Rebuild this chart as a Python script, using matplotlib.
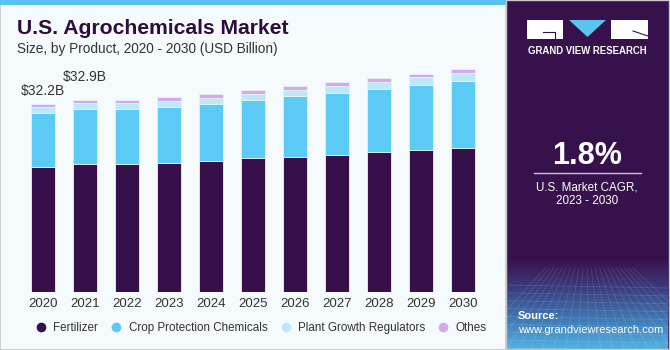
import numpy as np
import matplotlib.pyplot as plt
from matplotlib.patches import Rectangle, Polygon
from matplotlib.lines import Line2D
from matplotlib.colors import LinearSegmentedColormap

# 데이터 (USD Billion)
years = ['2020', '2021', '2022', '2023', '2024', '2025', '2026', '2027', '2028', '2029', '2030']
fertilizer = [21.3, 21.8, 21.8, 22.05, 22.45, 22.85, 23.1, 23.4, 23.9, 24.3, 24.6]
crop_protection = [9.3, 9.45, 9.45, 9.6, 9.75, 9.95, 10.4, 10.65, 10.8, 11.1, 11.45]
plant_growth = [0.95, 1.02, 1.02, 1.03, 0.97, 1.03, 1.03, 1.15, 1.2, 1.32, 1.37]
others = [0.65, 0.63, 0.63, 0.68, 0.74, 0.65, 0.68, 0.65, 0.63, 0.62, 0.63]
series_names = ['Fertilizer', 'Crop Protection Chemicals', 'Plant Growth Regulators', 'Othes']
series_colors = ['#370F4A', '#5BCAF5', '#BDE8F8', '#D4A8EC']
labels = {0: '$32.2B', 1: '$32.9B'}
label_offset = {0: 2.2, 1: 3.8}

W, H = 670, 350
plt.rcParams['font.family'] = ['Liberation Sans', 'DejaVu Sans']

fig = plt.figure(figsize=(W / 100, H / 100), dpi=100)

# 배경 (픽셀 좌표)
bg = fig.add_axes([0, 0, 1, 1])
bg.set_xlim(0, W)
bg.set_ylim(H, 0)
bg.axis('off')
bg.add_patch(Rectangle((0, 0), 506, H, facecolor='#F5FAFD', edgecolor='#C8C8C8', lw=1.2))
bg.add_patch(Rectangle((0, 0), 506, 5, facecolor='#5BC3EE', edgecolor='none'))
bg.add_patch(Rectangle((506, 0), W - 506, H, facecolor='#37114B', edgecolor='none'))

# 오른쪽 하단 그라데이션
grad = np.linspace(0, 1, 100).reshape(-1, 1)
cmap = LinearSegmentedColormap.from_list('g', ['#37114B', '#3B3E7E', '#3F79B4', '#52B3E3'])
bg.imshow(grad, cmap=cmap, extent=(506, W - 2, H, 258), aspect='auto', zorder=1)
for yy in np.linspace(285, 348, 9):
    bg.plot([506, W - 2], [yy, yy + 3], color='white', alpha=0.12, lw=0.6, zorder=2)
for xx in np.linspace(470, 720, 22):
    bg.plot([586 + (xx - 586) * 0.35, xx], [268, H], color='white', alpha=0.12, lw=0.6, zorder=2)
bg.add_patch(Rectangle((506, 0), W - 507, H - 1, facecolor='none', edgecolor='#C8C8C8', lw=1.0, zorder=3))

# 로고
bg.add_patch(Rectangle((527, 20), 36, 19, facecolor='white', edgecolor='none', zorder=3))
bg.plot([543, 555, 555], [32, 32, 38], color='#37114B', lw=0.8, zorder=4)
bg.add_patch(Polygon([(569, 20), (606, 20), (587.5, 37)], closed=True, facecolor='#5BC3EE', edgecolor='none', zorder=3))
bg.add_patch(Rectangle((611, 20), 37, 19, facecolor='white', edgecolor='none', zorder=3))
bg.plot([633, 648], [31, 36], color='#37114B', lw=0.8, zorder=4)
bg.text(587, 51, 'GRAND VIEW RESEARCH', color='white', fontsize=6.9,
        fontweight='bold', ha='center', va='center', zorder=4)

bg.text(587, 156, '1.8%', color='white', fontsize=22, fontweight='bold', ha='center', va='center', zorder=4)
bg.plot([534, 641], [173, 173], color='#CFC6D8', lw=1.0, zorder=4)
bg.text(587, 187, 'U.S. Market CAGR,', color='white', fontsize=8.4, ha='center', va='center', zorder=4)
bg.text(587, 201, '2023 - 2030', color='white', fontsize=8.4, ha='center', va='center', zorder=4)
bg.text(518, 316, 'Source:', color='white', fontsize=8, fontweight='bold', ha='left', va='center', zorder=4)
bg.text(518, 330, 'www.grandviewresearch.com', color='white', fontsize=8, ha='left', va='center', zorder=4)

# 제목
bg.text(17, 28, 'U.S. Agrochemicals Market', color='#2E0D3E', fontsize=15.2, fontweight='heavy',
        ha='left', va='center')
bg.text(17, 49, 'Size, by Product, 2020 - 2030 (USD Billion)', color='#333333', fontsize=9.8,
        ha='left', va='center')

# 막대 그래프
px_per_unit = 5.85
ax = fig.add_axes([22 / W, (H - 292) / H, 462 / W, 232 / H])
ax.patch.set_alpha(0)
x = np.arange(len(years))
bottom = np.zeros(len(years))
for vals, name, col in zip([fertilizer, crop_protection, plant_growth, others], series_names, series_colors):
    ax.bar(x, vals, width=0.57, bottom=bottom, color=col, edgecolor='#E6F1F8', linewidth=0.6, label=name)
    bottom = bottom + np.array(vals)
for i, txt in labels.items():
    ax.text(x[i], bottom[i] + label_offset[i], txt, ha='center', va='center', fontsize=10, color='#333333')
ax.set_xlim(-0.5, len(years) - 0.5)
ax.set_ylim(0, 232 / px_per_unit)
ax.set_xticks(x)
ax.set_xticklabels(years, fontsize=9.5, color='#333333')
ax.tick_params(axis='x', length=0, pad=4)
ax.set_yticks([])
for s in ax.spines.values():
    s.set_visible(False)

handles = [Line2D([], [], marker='o', linestyle='none', markersize=7, markerfacecolor=c, markeredgecolor='none')
           for c in series_colors]
fig.legend(handles, series_names, loc='center', bbox_to_anchor=(258 / W, 1 - 328 / H), ncol=4, frameon=False,
           fontsize=8.4, handletextpad=0.05, columnspacing=0.55, labelcolor='#333333')

fig.savefig('out.png', dpi=100)
